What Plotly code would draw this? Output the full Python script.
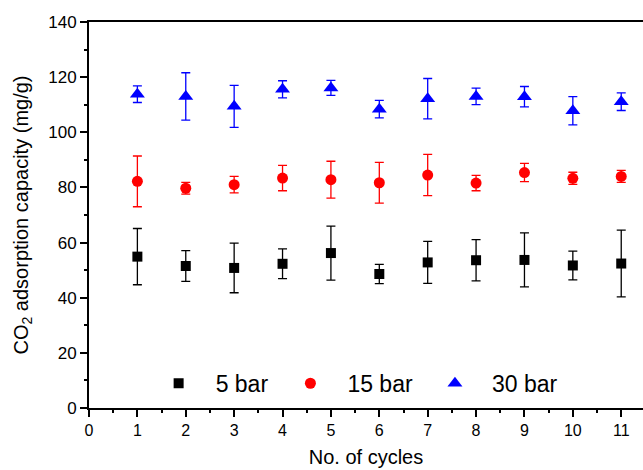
import plotly.graph_objects as go

cycles = [1, 2, 3, 4, 5, 6, 7, 8, 9, 10, 11]

bar5 = [54.9, 51.5, 50.8, 52.3, 56.2, 48.6, 52.8, 53.6, 53.7, 51.7, 52.4]
bar5_err = [10.2, 5.6, 9.0, 5.4, 9.8, 3.5, 7.6, 7.5, 9.8, 5.2, 12.1]

bar15 = [82.2, 79.7, 81.0, 83.4, 82.8, 81.7, 84.5, 81.6, 85.4, 83.3, 84.0]
bar15_err = [9.2, 2.1, 3.0, 4.6, 6.7, 7.4, 7.5, 2.8, 3.3, 2.2, 2.2]

bar30 = [113.8, 113.0, 109.4, 115.6, 116.1, 108.4, 112.2, 113.0, 112.9, 107.8, 111.1]
bar30_err = [3.0, 8.6, 7.6, 3.1, 2.7, 3.2, 7.3, 3.0, 3.7, 5.1, 3.2]

series = [
    ("5 bar", bar5, bar5_err, "#000000", "square", 10),
    ("15 bar", bar15, bar15_err, "#ff0000", "circle", 11),
    ("30 bar", bar30, bar30_err, "#0000ff", "triangle-up", 13),
]

FONT = "Liberation Sans, Arial, sans-serif"

fig = go.Figure()
for name, vals, errs, color, sym, size in series:
    fig.add_trace(go.Scatter(
        x=cycles, y=vals, mode="markers", name=name,
        marker=dict(symbol=sym, size=size, color=color),
        error_y=dict(type="data", array=errs, visible=True,
                     color=color, thickness=1.3, width=4.5),
    ))

fig.update_layout(
    width=643, height=470,
    margin=dict(l=89, r=0, t=22, b=62),
    paper_bgcolor="white", plot_bgcolor="white",
    font=dict(family=FONT, color="black"),
    showlegend=True,
    legend=dict(orientation="h", x=0.095, xanchor="left", y=0.064, yanchor="middle",
                font=dict(size=23, family=FONT), bgcolor="rgba(0,0,0,0)",
                itemwidth=64, tracegroupgap=0),
    xaxis=dict(
        range=[0, 11.45], tickmode="array", tickvals=list(range(0, 12)),
        ticks="outside", ticklen=7, tickwidth=1.5, tickcolor="black",
        minor=dict(tickmode="array", tickvals=[i + 0.5 for i in range(0, 11)],
                   ticks="outside", ticklen=3, tickwidth=1.5, tickcolor="black"),
        showline=True, linecolor="black", linewidth=2, mirror=True,
        showgrid=False, zeroline=False,
        tickfont=dict(size=16, family=FONT),
        title=dict(text="No. of cycles", font=dict(size=20, family=FONT), standoff=12),
    ),
    yaxis=dict(
        range=[0, 140], tickmode="array", tickvals=list(range(0, 141, 20)),
        ticks="outside", ticklen=7, tickwidth=1.5, tickcolor="black",
        minor=dict(tickmode="array", tickvals=list(range(10, 140, 20)),
                   ticks="outside", ticklen=3, tickwidth=1.5, tickcolor="black"),
        showline=True, linecolor="black", linewidth=2, mirror=False,
        showgrid=False, zeroline=False,
        tickfont=dict(size=17, family=FONT),
        title=dict(text="CO<sub>2</sub> adsorption capacity (mg/g)",
                   font=dict(size=20, family=FONT), standoff=14),
    ),
)

fig.write_html("out.html")
